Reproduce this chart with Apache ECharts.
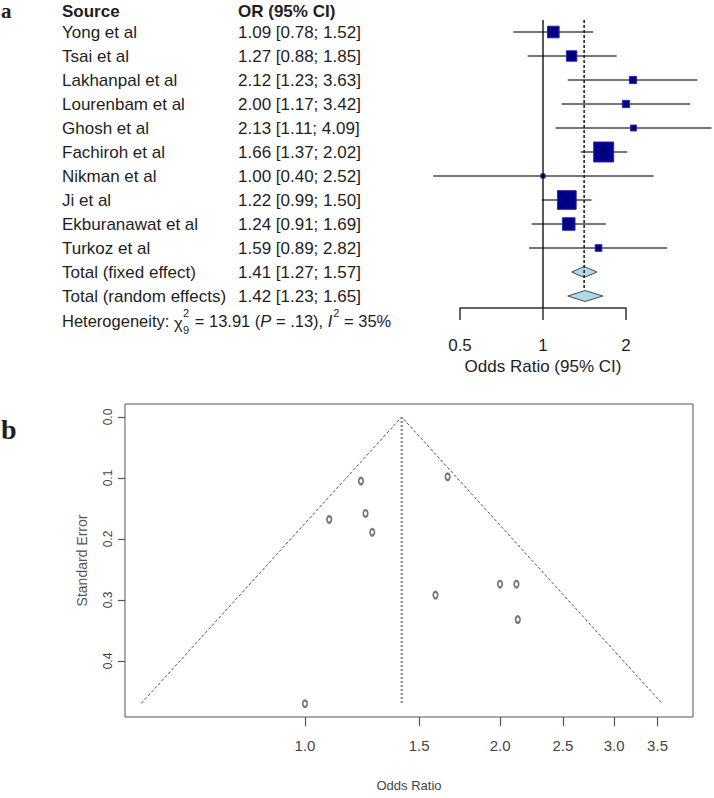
<!DOCTYPE html>
<html><head><meta charset="utf-8">
<script src="https://cdn.jsdelivr.net/npm/echarts@6/dist/echarts.min.js"></script>
<style>html,body{margin:0;padding:0;background:#fff}#c{width:714px;height:798px}</style>
</head><body><div id="c"></div>
<script>
// ---------- data ----------
const studies = ['Yong et al','Tsai et al','Lakhanpal et al','Lourenbam et al','Ghosh et al','Fachiroh et al','Nikman et al','Ji et al','Ekburanawat et al','Turkoz et al'];
const orValues = [1.09,1.27,2.12,2.00,2.13,1.66,1.00,1.22,1.24,1.59];
const ciLower  = [0.78,0.88,1.23,1.17,1.11,1.37,0.40,0.99,0.91,0.89];
const ciUpper  = [1.52,1.85,3.63,3.42,4.09,2.02,2.52,1.50,1.69,2.82];
const weightPct = [10.0,8.1,3.8,3.9,2.6,29.5,1.3,25.8,11.6,3.3];
const pooledLabels = ['Total (fixed effect)','Total (random effects)'];
const pooledOR    = [1.41,1.42];
const pooledLower = [1.27,1.23];
const pooledUpper = [1.57,1.65];
const nullOR = 1;
const forestTicks = [0.5,1,2];
const funnelSE = [0.168,0.189,0.274,0.274,0.332,0.098,0.470,0.105,0.158,0.292];
const funnelTicksX = [1.0,1.5,2.0,2.5,3.0,3.5];
const funnelTicksY = [0,0.1,0.2,0.3,0.4];
const funnelEdgeOR = [0.559,1.41,3.556];
const funnelEdgeSE = [0.4695,0,0.4695];

// ---------- helpers ----------
const FONT = '"Liberation Sans", Arial, sans-serif';
const TXT = '#1e1e1e';
const log2 = Math.log2;
const rowY = i => 32 + 24*i;

const graphics = [];
function txt(x,y,text,font,align){
  graphics.push({type:'text', x:x, y:y, silent:true,
    style:{text:text, font:font, fill:TXT, textAlign:align||'left', textVerticalAlign:'middle'}});
}
// panel labels
txt(1,11,'a','bold 21px "Liberation Serif", serif');
txt(1,429,'b','bold 28px "Liberation Serif", serif');
// header
txt(62,11,'Source','bold 17px '+FONT);
txt(238,11,'OR (95% CI)','bold 17px '+FONT);
studies.forEach((s,i)=>{
  txt(62,rowY(i),s,'17px '+FONT);
  txt(238,rowY(i),orValues[i].toFixed(2)+' ['+ciLower[i].toFixed(2)+'; '+ciUpper[i].toFixed(2)+']','17px '+FONT);
});
pooledLabels.forEach((s,k)=>{
  const i = studies.length + k;
  txt(62,rowY(i),s,'17px '+FONT);
  txt(238,rowY(i),pooledOR[k].toFixed(2)+' ['+pooledLower[k].toFixed(2)+'; '+pooledUpper[k].toFixed(2)+']','17px '+FONT);
});
// heterogeneity line
(function(){
  const ctx = document.createElement('canvas').getContext('2d');
  const base = '16.5px '+FONT, ital = 'italic 16.5px '+FONT, small = '11px '+FONT;
  const y = 321;
  let x = 62;
  const put = (t,f,dy) => { txt(x,y+(dy||0),t,f); ctx.font=f; x += ctx.measureText(t).width; };
  put('Heterogeneity: ',base);
  put('\u03c7',base,2);
  txt(x+0.5,y-8,'2',small); txt(x+0.5,y+9,'9',small);
  ctx.font=small; x += ctx.measureText('2').width+1.5;
  put(' = 13.91 (',base);
  put('P',ital);
  put(' = .13), ',base);
  put('I',ital);
  txt(x+1,y-8,'2',small); ctx.font=small; x += ctx.measureText('2').width+1;
  put(' = 35%',base);
})();
txt(543,366,'Odds Ratio (95% CI)','17px '+FONT,'center');

// ---------- chart ----------
const chart = echarts.init(document.getElementById('c'), null, {renderer:'svg', width:714, height:798});
const studyData = studies.map((s,i)=>[log2(orValues[i]),log2(ciLower[i]),log2(ciUpper[i]),i,weightPct[i]]);
const pooledData = pooledLabels.map((s,k)=>[log2(pooledOR[k]),log2(pooledLower[k]),log2(pooledUpper[k]),studies.length+k]);
const NARROW = '"Liberation Sans Narrow", "Arial Narrow", sans-serif';

const option = {
  animation:false,
  backgroundColor:'#fff',
  graphic: graphics,
  grid:[
    {left:377, top:20, width:336.15, height:288, show:false},
    {left:125, top:404, width:568, height:313, show:true, borderColor:'#555', borderWidth:1},
    {left:460, top:290, width:166, height:18, show:false}
  ],
  xAxis:[
    {gridIndex:0, type:'value', min:-2, max:2.05, show:false},
    {gridIndex:1, type:'value', position:'bottom', min:Math.log(0.5275), max:Math.log(3.970),
      axisLine:{show:false, onZero:false}, splitLine:{show:false},
      axisTick:{show:true, length:9, customValues:funnelTicksX.map(Math.log), lineStyle:{color:'#555', width:1.2}},
      axisLabel:{show:true, customValues:funnelTicksX.map(Math.log), margin:21,
        formatter:v=>Math.exp(v).toFixed(1), fontFamily:NARROW, fontSize:15, color:'#444'},
      name:'Odds Ratio', nameLocation:'middle', nameGap:62,
      nameTextStyle:{fontFamily:NARROW, fontSize:13, color:'#444'}},
    {gridIndex:2, type:'value', min:-1, max:1,
      axisLine:{show:true, onZero:false, lineStyle:{color:'#333', width:1.5}}, splitLine:{show:false},
      axisTick:{show:true, length:12, customValues:forestTicks.map(log2), lineStyle:{color:'#333', width:1.5}},
      axisLabel:{show:true, customValues:forestTicks.map(log2), margin:29,
        formatter:v=>String(Math.round(Math.pow(2,v)*10)/10), fontFamily:FONT, fontSize:17, color:TXT}}
  ],
  yAxis:[
    {gridIndex:0, type:'value', min:-0.5, max:11.5, inverse:true, show:false},
    {gridIndex:1, type:'value', position:'left', min:-0.02131, max:0.4918, inverse:true,
      axisLine:{show:false, onZero:false}, splitLine:{show:false},
      axisTick:{show:true, length:7, customValues:funnelTicksY, lineStyle:{color:'#555', width:1.2}},
      axisLabel:{show:true, customValues:funnelTicksY, rotate:90, margin:11,
        formatter:v=>v.toFixed(1), fontFamily:FONT, fontSize:12, color:'#444'},
      name:'Standard Error', nameLocation:'middle', nameGap:36, nameRotate:90,
      nameTextStyle:{fontFamily:FONT, fontSize:14, color:'#555'}},
    {gridIndex:2, type:'value', min:0, max:1, show:false}
  ],
  series:[
    {type:'line', xAxisIndex:0, yAxisIndex:0, symbol:'none', silent:true,
      data:[[log2(nullOR),-0.5],[log2(nullOR),11.5]], lineStyle:{color:'#000', width:1.3}},
    {type:'line', xAxisIndex:0, yAxisIndex:0, symbol:'none', silent:true,
      data:[[log2(pooledOR[0]),-0.5],[log2(pooledOR[0]),10.75]], lineStyle:{color:'#222', width:1.6, type:[3,2]}},
    {type:'custom', xAxisIndex:0, yAxisIndex:0, clip:false, silent:true, data:studyData,
      renderItem:(p,api)=>{
        const y = api.value(3);
        const c = api.coord([api.value(0),y]), l = api.coord([api.value(1),y]), h = api.coord([api.value(2),y]);
        const s = 3.68*Math.sqrt(api.value(4));
        return {type:'group', children:[
          {type:'line', shape:{x1:l[0],y1:l[1],x2:h[0],y2:h[1]}, style:{stroke:'#4a4a4a', lineWidth:1.5}},
          {type:'rect', shape:{x:c[0]-s/2,y:c[1]-s/2,width:s,height:s}, style:{fill:'#00008b', stroke:'#2a2ab5', lineWidth:1}},
          {type:'circle', shape:{cx:c[0],cy:c[1],r:1.4}, style:{fill:'#000022'}}
        ]};
      }},
    {type:'custom', xAxisIndex:0, yAxisIndex:0, clip:false, silent:true, data:pooledData,
      renderItem:(p,api)=>{
        const y = api.value(3);
        const c = api.coord([api.value(0),y]), l = api.coord([api.value(1),y]), h = api.coord([api.value(2),y]);
        const d = 5.5;
        return {type:'polygon', shape:{points:[[l[0],c[1]],[c[0],c[1]-d],[h[0],c[1]],[c[0],c[1]+d]]},
          style:{fill:'#add8e6', stroke:'#4a4a4a', lineWidth:1}};
      }},
    {type:'line', xAxisIndex:1, yAxisIndex:1, symbol:'none', silent:true,
      data:funnelEdgeOR.map((o,i)=>[Math.log(o),funnelEdgeSE[i]]), lineStyle:{color:'#555', width:1, type:[3,2]}},
    {type:'line', xAxisIndex:1, yAxisIndex:1, symbol:'none', silent:true,
      data:[[Math.log(pooledOR[0]),0],[Math.log(pooledOR[0]),funnelSE[6]]], lineStyle:{color:'#888', width:2.2, type:[2,2]}},
    {type:'scatter', xAxisIndex:1, yAxisIndex:1, silent:true, symbol:'emptyCircle', symbolSize:[4.5,6.5],
      data:studies.map((s,i)=>[Math.log(orValues[i]),funnelSE[i]]),
      itemStyle:{color:'#555', borderColor:'#555', borderWidth:1.3}}
  ]
};
chart.setOption(option);
</script>
</body></html>
